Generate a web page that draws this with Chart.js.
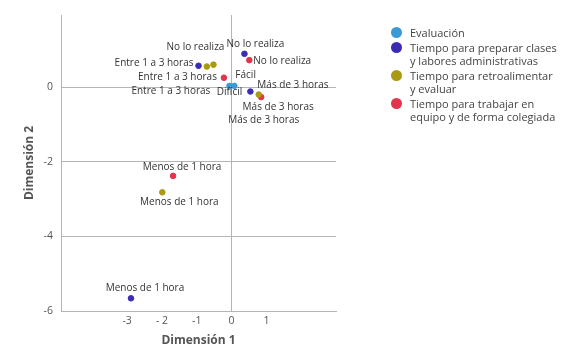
<!DOCTYPE html>
<html>
<head>
<meta charset="utf-8">
<script src="https://cdn.jsdelivr.net/npm/chart.js@4.4.0/dist/chart.umd.min.js"></script>
<style>
  body{margin:0;background:#fff;font-family:"Open Sans",sans-serif}
  #wrap{position:relative;width:572px;height:360px}
  #legend{position:absolute;left:391px;top:26px;font-size:11px;color:#444;line-height:13.5px}
  .li{display:flex;align-items:flex-start;margin-bottom:1px}
  .dot{width:11px;height:11px;border-radius:50%;margin:1px 8px 0 0;flex:none}
</style>
</head>
<body>
<div id="wrap">
  <canvas id="c" width="572" height="360"></canvas>
  <div id="legend"></div>
</div>
<script>
// series names (legend)
const seriesNames = ["Evaluación", "Tiempo para preparar clases\ny labores administrativas", "Tiempo para retroalimentar\ny evaluar", "Tiempo para trabajar en\nequipo y de forma colegiada"];
const seriesColors = ["#3a9ad6", "#3b2cb3", "#a99a12", "#e2344b"];

// coordinates (Dimensión 1, Dimensión 2)
const evalX = [-0.06, 0.08];
const evalY = [0.03, 0.03];
const evalLabels = ["Difícil", "Fácil"];

const prepX = [-0.95, 0.37, 0.54, -2.89];
const prepY = [0.57, 0.89, -0.12, -5.66];
const prepLabels = ["Entre 1 a 3 horas", "No lo realiza", "Más de 3 horas", "Menos de 1 hora"];

const retroX = [-0.71, -0.52, 0.78, -1.99];
const retroY = [0.55, 0.60, -0.20, -2.82];
const retroLabels = ["Entre 1 a 3 horas", "No lo realiza", "Más de 3 horas", "Menos de 1 hora"];

const equipoX = [0.51, -0.22, 0.85, -1.68];
const equipoY = [0.72, 0.25, -0.27, -2.38];
const equipoLabels = ["No lo realiza", "Entre 1 a 3 horas", "Más de 3 horas", "Menos de 1 hora"];

const xTicks = [-3, -2, -1, 0, 1];
const xTickLabels = ["-3", "- 2", "-1", "0", "1"];
const yTicks = [-6, -4, -2, 0];

// label placement relative to the point: [dx, dy, align]
const labelPlace = [
  [[0, 6, "center"], [1, -11, "left"]],
  [[-5, -3, "right"], [11, -10, "center"], [7, -6, "left"], [14, -10, "center"]],
  [[-36, 25, "center"], [-18, -17, "center"], [5, 26, "center"], [17, 10, "center"]],
  [[4, 1, "left"], [-7, -1, "right"], [17, 10, "center"], [9, -9, "center"]]
];

const allX = [evalX, prepX, retroX, equipoX];
const allY = [evalY, prepY, retroY, equipoY];
const allLabels = [evalLabels, prepLabels, retroLabels, equipoLabels];

const datasets = allX.map((xs, i) => ({
  label: seriesNames[i],
  data: xs.map((x, j) => ({x: x, y: allY[i][j]})),
  backgroundColor: seriesColors[i],
  borderColor: seriesColors[i],
  pointRadius: 2.8,
  pointHoverRadius: 2.8
}));

// legend
document.getElementById("legend").innerHTML = seriesNames.map((n, i) =>
  `<div class="li"><div class="dot" style="background:${seriesColors[i]}"></div><div>${n.replace("\n", "<br>")}</div></div>`).join("");

const pointLabels = {
  id: "pointLabels",
  afterDatasetsDraw(chart) {
    const ctx = chart.ctx;
    ctx.save();
    ctx.font = "10px 'Open Sans'";
    ctx.fillStyle = "#333";
    ctx.textBaseline = "middle";
    chart.data.datasets.forEach((ds, i) => {
      chart.getDatasetMeta(i).data.forEach((pt, j) => {
        const p = labelPlace[i][j];
        ctx.textAlign = p[2];
        ctx.fillText(allLabels[i][j], pt.x + p[0], pt.y + p[1]);
      });
    });
    ctx.restore();
  }
};

const gridCol = "#b4b4b4";
new Chart(document.getElementById("c"), {
  type: "scatter",
  data: {datasets},
  plugins: [pointLabels],
  options: {
    responsive: false,
    animation: false,
    layout: {padding: {top: 15, right: 236, left: 0, bottom: 0}},
    plugins: {legend: {display: false}, tooltip: {enabled: false}},
    scales: {
      x: {
        min: -4.9, max: 3.0,
        afterBuildTicks: s => { s.ticks = xTicks.map(v => ({value: v})); },
        afterFit: s => { s.height = 49; },
        ticks: {padding: 4, color: "#555", font: {family: "Open Sans", size: 10.5},
          callback: (v) => xTickLabels[xTicks.indexOf(v)]},
        grid: {drawTicks: false, color: c => c.tick && c.tick.value === 0 ? gridCol : "transparent"},
        border: {display: true, color: gridCol},
        title: {display: true, text: "Dimensión 1", color: "#555", padding: {top: 0, bottom: 12},
          font: {family: "Open Sans", size: 12, weight: "bold"}}
      },
      y: {
        min: -6, max: 1.93,
        afterBuildTicks: s => { s.ticks = yTicks.map(v => ({value: v})); },
        afterFit: s => { s.width = 61; },
        ticks: {padding: 8, color: "#555", font: {family: "Open Sans", size: 10.5}},
        grid: {drawTicks: false, color: gridCol},
        border: {display: true, color: gridCol},
        title: {display: true, text: "Dimensión 2", color: "#555", padding: {top: 22, bottom: 0},
          font: {family: "Open Sans", size: 12, weight: "bold"}}
      }
    }
  }
});
</script>
</body>
</html>
